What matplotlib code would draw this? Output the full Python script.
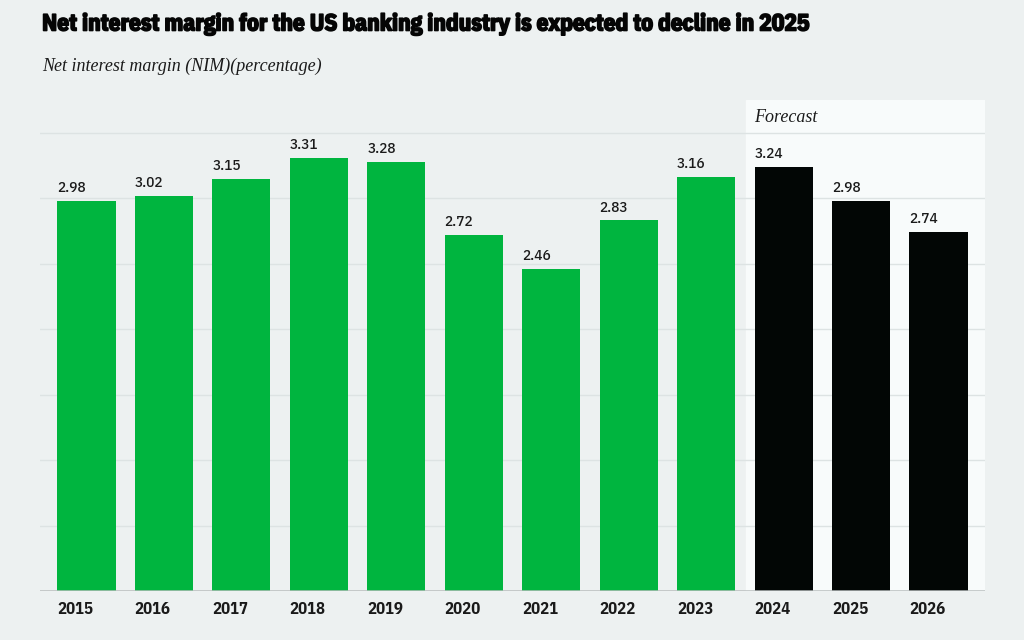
"""Net interest margin bar chart, US banking industry 2015-2026 (forecast from 2024)."""
import matplotlib
matplotlib.use("Agg")
import matplotlib.pyplot as plt
import matplotlib.patheffects as pe

years = ["2015", "2016", "2017", "2018", "2019", "2020", "2021", "2022", "2023",
         "2024", "2025", "2026"]
nim = [2.98, 3.02, 3.15, 3.31, 3.28, 2.72, 2.46, 2.83, 3.16, 3.24, 2.98, 2.74]
forecast = [False] * 9 + [True] * 3

BG = "#edf1f1"
GREEN = "#00b53f"
BLACK = "#020605"
BAR_W = 0.75
COND = "IBM Plex Sans Condensed"

fig = plt.figure(figsize=(10.24, 6.4), dpi=100, facecolor=BG)
ax = fig.add_axes([40 / 1024, 49 / 640, 945 / 1024, 491 / 640])
ax.set_facecolor(BG)

x = list(range(len(years)))
ax.set_xlim(-0.6, len(years) - 0.4)
ax.set_ylim(0, 3.75)

# forecast panel
first_fc = forecast.index(True)
ax.axvspan(first_fc - 0.48, len(years) - 0.4, color="#f8fbfb", zorder=0)
ax.text(first_fc - 0.38, 3.62, "Forecast", family="Liberation Serif", style="italic",
        fontsize=13, color="#1a1a1a", va="center", ha="left")

for yv in [0.5, 1.0, 1.5, 2.0, 2.5, 3.0, 3.5]:
    ax.axhline(yv, color="#dde3e3", lw=1, zorder=1)

colors = [BLACK if f else GREEN for f in forecast]
ax.bar(x, nim, width=BAR_W, color=colors, zorder=2)

for xi, v in zip(x, nim):
    ax.text(xi - BAR_W / 2, v + 0.045, f"{v:.2f}", family=COND, weight=500,
            fontsize=11, color="#1a1a1a", ha="left", va="bottom")

ax.set_xticks(x)
ax.set_xticklabels([])
for xi, yr in zip(x, years):
    ax.text(xi - BAR_W / 2, -0.14, yr, family=COND, weight="bold", fontsize=12,
            color="#1a1a1a", ha="left", va="center")

ax.set_yticks([])
ax.tick_params(length=0)
for s in ax.spines.values():
    s.set_visible(False)
ax.axhline(0, color="#b8bdbd", lw=1.8, zorder=3)

title = fig.text(42 / 1024, 1 - 24 / 640,
                 "Net interest margin for the US banking industry is expected to decline in 2025",
                 family=COND, weight="bold", fontsize=19, color="#050505",
                 ha="left", va="center")
# fit title width to the reference (about 770 px), then thicken strokes
r = fig.canvas.get_renderer()
w = title.get_window_extent(r).width
title.set_fontsize(19 * 770 / w)
title.set_path_effects([pe.withStroke(linewidth=1.2, foreground="#050505")])

fig.text(42 / 1024, 1 - 66 / 640, "Net interest margin (NIM)(percentage)",
         family="Liberation Serif", style="italic", fontsize=13, color="#1a1a1a",
         ha="left", va="center")

fig.savefig("out.png", dpi=100, facecolor=BG)
